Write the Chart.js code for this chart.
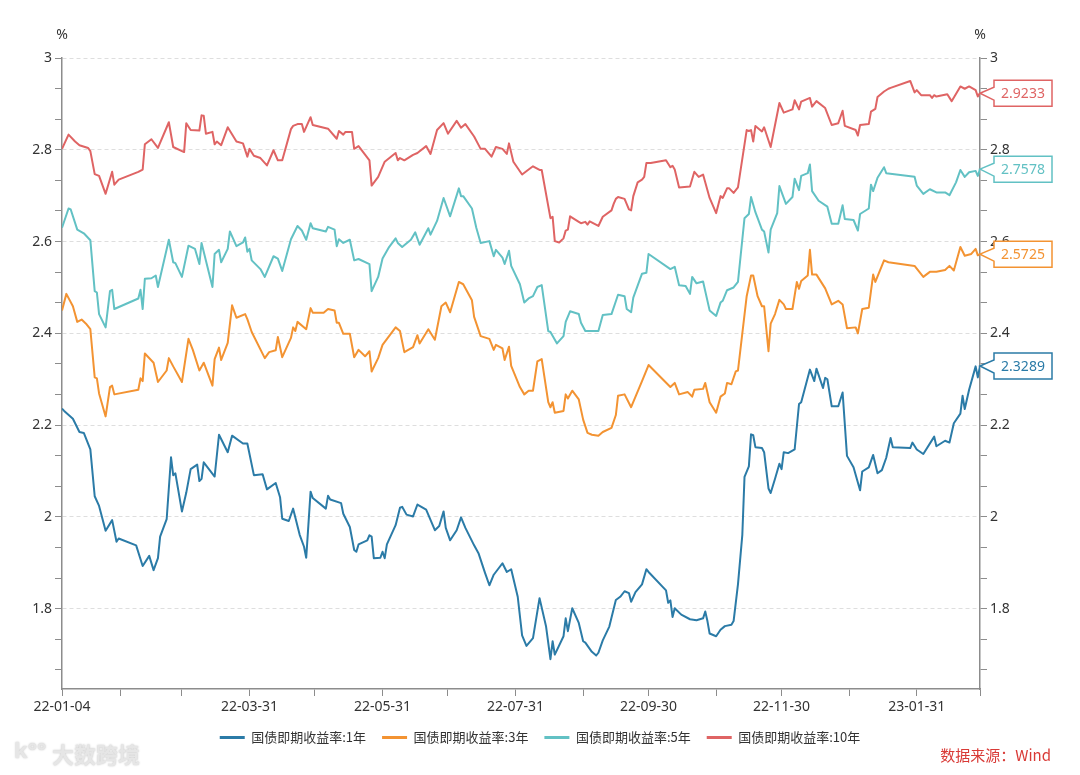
<!DOCTYPE html>
<html>
<head>
<meta charset="utf-8">
<script src="https://cdn.jsdelivr.net/npm/chart.js@4.4.0/dist/chart.umd.min.js"></script>
<style>
  html, body { margin: 0; padding: 0; background: #fff; }
  #wrap { width: 1080px; height: 775px; }
</style>
</head>
<body>
<div id="wrap"><canvas id="chart" width="1080" height="775"></canvas></div>
<script>
const seriesNames = ['国债即期收益率:1年', '国债即期收益率:3年', '国债即期收益率:5年', '国债即期收益率:10年']
const seriesColors = ['#2b7ba7', '#f39332', '#62c1c4', '#df6464']

const tickDates = ['22-01-04','22-01-31','22-02-28','22-03-31','22-04-30','22-05-31','22-06-30','22-07-31',
  '22-08-31','22-09-30','22-10-31','22-11-30','22-12-31','23-01-31','23-03-01']
const labelDates = ['22-01-04','22-03-31','22-05-31','22-07-31','22-09-30','22-11-30','23-01-31']

const yield1y = [['22-01-04',2.236],['22-01-05',2.231],['22-01-09',2.214],['22-01-12',2.185],['22-01-14',2.183],['22-01-17',2.147],
  ['22-01-19',2.045],['22-01-21',2.024],['22-01-24',1.970],['22-01-27',1.993],['22-01-29',1.946],['22-01-30',1.953],['22-02-07',1.938],
  ['22-02-10',1.893],['22-02-13',1.915],['22-02-15',1.884],['22-02-17',1.910],['22-02-18',1.957],['22-02-21',1.995],['22-02-23',2.130],
  ['22-02-24',2.091],['22-02-25',2.095],['22-02-28',2.012],['22-03-02',2.053],['22-03-04',2.104],['22-03-07',2.114],['22-03-08',2.078],
  ['22-03-09',2.083],['22-03-10',2.119],['22-03-15',2.088],['22-03-17',2.179],['22-03-21',2.141],['22-03-23',2.177],['22-03-28',2.160],
  ['22-03-30',2.160],['22-04-02',2.091],['22-04-06',2.093],['22-04-08',2.060],['22-04-12',2.074],['22-04-14',2.043],['22-04-15',1.996],
  ['22-04-18',1.991],['22-04-20',2.018],['22-04-23',1.961],['22-04-25',1.935],['22-04-26',1.911],['22-04-28',2.055],['22-04-29',2.041],
  ['22-05-05',2.018],['22-05-06',2.046],['22-05-07',2.038],['22-05-12',2.030],['22-05-13',2.007],['22-05-16',1.978],['22-05-18',1.928],
  ['22-05-19',1.924],['22-05-20',1.940],['22-05-24',1.949],['22-05-25',1.960],['22-05-26',1.957],['22-05-27',1.910],['22-05-30',1.911],
  ['22-05-31',1.924],['22-06-01',1.910],['22-06-02',1.940],['22-06-06',1.982],['22-06-08',2.020],['22-06-09',2.022],['22-06-11',2.005],
  ['22-06-14',2.001],['22-06-16',2.027],['22-06-20',2.016],['22-06-24',1.971],['22-06-26',1.980],['22-06-28',2.012],['22-06-29',1.976],
  ['22-07-01',1.949],['22-07-04',1.971],['22-07-06',1.999],['22-07-08',1.976],['22-07-12',1.938],['22-07-14',1.921],['22-07-17',1.878],
  ['22-07-19',1.851],['22-07-21',1.874],['22-07-25',1.899],['22-07-27',1.880],['22-07-29',1.886],['22-08-01',1.826],['22-08-03',1.742],
  ['22-08-05',1.719],['22-08-08',1.736],['22-08-11',1.823],['22-08-14',1.761],['22-08-16',1.690],['22-08-17',1.729],['22-08-18',1.700],
  ['22-08-22',1.740],['22-08-23',1.779],['22-08-24',1.751],['22-08-26',1.801],['22-08-29',1.769],['22-08-31',1.729],['22-09-01',1.726],
  ['22-09-04',1.706],['22-09-06',1.698],['22-09-07',1.704],['22-09-09',1.731],['22-09-12',1.761],['22-09-15',1.819],['22-09-17',1.826],
  ['22-09-19',1.838],['22-09-21',1.834],['22-09-22',1.815],['22-09-24',1.836],['22-09-27',1.853],['22-09-29',1.886],['22-09-30',1.880],
  ['22-10-08',1.840],['22-10-09',1.813],['22-10-10',1.818],['22-10-11',1.782],['22-10-12',1.801],['22-10-15',1.787],['22-10-19',1.777],
  ['22-10-22',1.775],['22-10-25',1.779],['22-10-26',1.794],['22-10-27',1.773],['22-10-28',1.746],['22-10-31',1.740],['22-11-02',1.754],
  ['22-11-04',1.762],['22-11-07',1.765],['22-11-08',1.773],['22-11-10',1.853],['22-11-12',1.961],['22-11-13',2.087],['22-11-15',2.110],
  ['22-11-16',2.180],['22-11-17',2.178],['22-11-18',2.152],['22-11-21',2.150],['22-11-22',2.141],['22-11-24',2.062],['22-11-25',2.052],
  ['22-11-27',2.083],['22-11-29',2.116],['22-11-30',2.104],['22-12-01',2.141],['22-12-03',2.139],['22-12-06',2.147],['22-12-08',2.246],
  ['22-12-09',2.250],['22-12-13',2.321],['22-12-15',2.296],['22-12-16',2.323],['22-12-19',2.281],['22-12-20',2.303],['22-12-21',2.300],
  ['22-12-23',2.241],['22-12-26',2.241],['22-12-28',2.271],['22-12-30',2.133],['23-01-02',2.108],['23-01-05',2.058],['23-01-06',2.099],
  ['23-01-09',2.108],['23-01-11',2.135],['23-01-13',2.095],['23-01-15',2.102],['23-01-17',2.129],['23-01-19',2.172],['23-01-20',2.152],
  ['23-01-28',2.150],['23-01-29',2.162],['23-01-31',2.147],['23-02-03',2.137],['23-02-08',2.175],['23-02-09',2.154],['23-02-13',2.166],
  ['23-02-15',2.162],['23-02-17',2.204],['23-02-20',2.225],['23-02-21',2.264],['23-02-22',2.235],['23-02-24',2.277],['23-02-27',2.328],
  ['23-02-28',2.304],['23-03-01',2.3289]]

const yield3y = [['22-01-04',2.450],['22-01-06',2.486],['22-01-09',2.459],['22-01-11',2.425],['22-01-13',2.430],['22-01-15',2.421],
  ['22-01-17',2.409],['22-01-19',2.304],['22-01-20',2.302],['22-01-21',2.269],['22-01-24',2.219],['22-01-26',2.283],['22-01-27',2.286],
  ['22-01-28',2.267],['22-02-08',2.277],['22-02-09',2.302],['22-02-10',2.296],['22-02-11',2.356],['22-02-15',2.336],['22-02-17',2.294],
  ['22-02-21',2.319],['22-02-22',2.346],['22-02-24',2.328],['22-02-28',2.294],['22-03-03',2.388],['22-03-05',2.364],['22-03-08',2.319],
  ['22-03-10',2.336],['22-03-14',2.286],['22-03-15',2.344],['22-03-17',2.369],['22-03-18',2.342],['22-03-21',2.379],['22-03-23',2.461],
  ['22-03-25',2.434],['22-03-29',2.442],['22-03-30',2.431],['22-04-01',2.403],['22-04-07',2.346],['22-04-09',2.359],['22-04-12',2.363],
  ['22-04-13',2.392],['22-04-15',2.348],['22-04-19',2.390],['22-04-20',2.413],['22-04-21',2.405],['22-04-22',2.425],['22-04-26',2.409],
  ['22-04-28',2.455],['22-04-29',2.445],['22-05-04',2.445],['22-05-06',2.453],['22-05-09',2.450],['22-05-10',2.423],['22-05-11',2.423],
  ['22-05-13',2.399],['22-05-16',2.399],['22-05-18',2.348],['22-05-20',2.364],['22-05-23',2.350],['22-05-25',2.361],['22-05-26',2.317],
  ['22-05-29',2.346],['22-05-31',2.375],['22-06-06',2.413],['22-06-08',2.405],['22-06-10',2.359],['22-06-14',2.370],['22-06-16',2.396],
  ['22-06-17',2.378],['22-06-21',2.409],['22-06-24',2.386],['22-06-27',2.459],['22-06-29',2.467],['22-07-01',2.446],['22-07-05',2.512],
  ['22-07-07',2.507],['22-07-11',2.472],['22-07-12',2.436],['22-07-15',2.394],['22-07-19',2.388],['22-07-21',2.364],['22-07-22',2.375],
  ['22-07-25',2.367],['22-07-26',2.342],['22-07-28',2.371],['22-07-29',2.329],['22-08-02',2.283],['22-08-04',2.267],['22-08-06',2.275],
  ['22-08-08',2.275],['22-08-10',2.339],['22-08-12',2.344],['22-08-15',2.250],['22-08-16',2.239],['22-08-17',2.250],['22-08-18',2.227],
  ['22-08-22',2.231],['22-08-23',2.267],['22-08-24',2.258],['22-08-26',2.275],['22-08-29',2.256],['22-08-31',2.212],['22-09-02',2.183],
  ['22-09-04',2.179],['22-09-07',2.177],['22-09-09',2.185],['22-09-13',2.194],['22-09-15',2.222],['22-09-16',2.264],['22-09-19',2.267],
  ['22-09-22',2.239],['22-09-27',2.296],['22-09-30',2.331],['22-10-10',2.283],['22-10-12',2.292],['22-10-14',2.267],['22-10-18',2.272],
  ['22-10-20',2.262],['22-10-21',2.277],['22-10-25',2.279],['22-10-26',2.292],['22-10-28',2.250],['22-10-31',2.227],['22-11-02',2.262],
  ['22-11-04',2.269],['22-11-05',2.292],['22-11-07',2.289],['22-11-09',2.317],['22-11-10',2.319],['22-11-14',2.481],['22-11-16',2.526],
  ['22-11-17',2.526],['22-11-19',2.481],['22-11-21',2.459],['22-11-22',2.459],['22-11-24',2.361],['22-11-25',2.421],['22-11-27',2.442],
  ['22-11-29',2.473],['22-12-01',2.463],['22-12-02',2.453],['22-12-05',2.453],['22-12-07',2.512],['22-12-08',2.497],['22-12-09',2.514],
  ['22-12-12',2.526],['22-12-13',2.582],['22-12-14',2.528],['22-12-16',2.528],['22-12-20',2.498],['22-12-23',2.463],['22-12-26',2.471],
  ['22-12-28',2.463],['22-12-30',2.411],['23-01-03',2.413],['23-01-04',2.400],['23-01-06',2.453],['23-01-09',2.456],['23-01-11',2.528],
  ['23-01-12',2.512],['23-01-16',2.559],['23-01-18',2.555],['23-01-30',2.547],['23-02-03',2.523],['23-02-06',2.534],['23-02-09',2.534],
  ['23-02-13',2.538],['23-02-15',2.547],['23-02-17',2.537],['23-02-20',2.588],['23-02-22',2.569],['23-02-25',2.573],['23-02-27',2.584],
  ['23-02-28',2.570],['23-03-01',2.5725]]

const yield5y = [['22-01-04',2.630],['22-01-07',2.672],['22-01-08',2.670],['22-01-11',2.626],['22-01-14',2.618],['22-01-17',2.603],
  ['22-01-19',2.492],['22-01-20',2.489],['22-01-21',2.442],['22-01-24',2.413],['22-01-26',2.492],['22-01-27',2.495],['22-01-28',2.453],
  ['22-02-08',2.476],['22-02-09',2.495],['22-02-10',2.453],['22-02-11',2.519],['22-02-14',2.520],['22-02-16',2.526],['22-02-17',2.501],
  ['22-02-22',2.604],['22-02-24',2.555],['22-02-25',2.553],['22-02-28',2.523],['22-03-03',2.591],['22-03-06',2.584],['22-03-08',2.551],
  ['22-03-09',2.597],['22-03-14',2.501],['22-03-15',2.573],['22-03-17',2.582],['22-03-18',2.555],['22-03-21',2.584],['22-03-22',2.622],
  ['22-03-25',2.590],['22-03-28',2.598],['22-03-29',2.609],['22-03-30',2.578],['22-03-31',2.584],['22-04-01',2.559],['22-04-05',2.540],
  ['22-04-07',2.523],['22-04-11',2.568],['22-04-13',2.563],['22-04-15',2.536],['22-04-19',2.605],['22-04-22',2.634],['22-04-24',2.624],
  ['22-04-26',2.604],['22-04-28',2.640],['22-04-29',2.629],['22-05-05',2.622],['22-05-06',2.632],['22-05-09',2.626],['22-05-10',2.590],
  ['22-05-11',2.605],['22-05-13',2.597],['22-05-16',2.604],['22-05-18',2.559],['22-05-20',2.562],['22-05-25',2.551],['22-05-26',2.492],
  ['22-05-29',2.523],['22-05-31',2.563],['22-06-03',2.588],['22-06-06',2.607],['22-06-07',2.597],['22-06-09',2.588],['22-06-13',2.604],
  ['22-06-15',2.620],['22-06-17',2.593],['22-06-21',2.629],['22-06-22',2.615],['22-06-25',2.645],['22-06-28',2.695],['22-07-01',2.655],
  ['22-07-05',2.716],['22-07-06',2.699],['22-07-07',2.699],['22-07-11',2.672],['22-07-13',2.630],['22-07-15',2.597],['22-07-19',2.601],
  ['22-07-21',2.568],['22-07-22',2.582],['22-07-25',2.565],['22-07-26',2.551],['22-07-28',2.580],['22-07-29',2.547],['22-08-02',2.507],
  ['22-08-04',2.467],['22-08-06',2.476],['22-08-08',2.481],['22-08-10',2.501],['22-08-12',2.505],['22-08-15',2.405],['22-08-16',2.403],
  ['22-08-19',2.378],['22-08-22',2.394],['22-08-23',2.425],['22-08-25',2.448],['22-08-29',2.442],['22-08-30',2.423],['22-09-01',2.405],
  ['22-09-07',2.405],['22-09-09',2.440],['22-09-13',2.442],['22-09-16',2.484],['22-09-19',2.481],['22-09-20',2.453],['22-09-22',2.446],
  ['22-09-23',2.478],['22-09-27',2.530],['22-09-29',2.532],['22-09-30',2.573],['22-10-10',2.540],['22-10-12',2.545],['22-10-14',2.505],
  ['22-10-17',2.503],['22-10-19',2.486],['22-10-20',2.523],['22-10-22',2.509],['22-10-25',2.513],['22-10-28',2.450],['22-10-31',2.438],
  ['22-11-02',2.467],['22-11-03',2.471],['22-11-05',2.494],['22-11-08',2.500],['22-11-10',2.512],['22-11-13',2.651],['22-11-15',2.660],
  ['22-11-16',2.697],['22-11-18',2.664],['22-11-21',2.626],['22-11-22',2.622],['22-11-24',2.576],['22-11-25',2.626],['22-11-28',2.662],
  ['22-11-29',2.721],['22-12-02',2.682],['22-12-05',2.697],['22-12-06',2.737],['22-12-08',2.712],['22-12-09',2.743],['22-12-12',2.749],
  ['22-12-13',2.768],['22-12-14',2.710],['22-12-17',2.689],['22-12-21',2.676],['22-12-23',2.639],['22-12-26',2.639],['22-12-28',2.679],
  ['22-12-29',2.649],['23-01-02',2.647],['23-01-04',2.624],['23-01-05',2.660],['23-01-09',2.672],['23-01-10',2.724],['23-01-11',2.710],
  ['23-01-13',2.739],['23-01-16',2.762],['23-01-17',2.749],['23-01-30',2.741],['23-01-31',2.722],['23-02-03',2.704],['23-02-06',2.714],
  ['23-02-09',2.707],['23-02-13',2.707],['23-02-15',2.701],['23-02-18',2.729],['23-02-20',2.756],['23-02-22',2.741],['23-02-24',2.751],
  ['23-02-27',2.754],['23-02-28',2.743],['23-03-01',2.7578]]

const yield10y = [['22-01-04',2.802],['22-01-07',2.833],['22-01-10',2.818],['22-01-12',2.810],['22-01-16',2.804],['22-01-17',2.797],
  ['22-01-19',2.747],['22-01-21',2.743],['22-01-24',2.704],['22-01-27',2.752],['22-01-28',2.724],['22-01-30',2.735],['22-02-08',2.752],
  ['22-02-10',2.757],['22-02-11',2.812],['22-02-14',2.823],['22-02-17',2.804],['22-02-22',2.860],['22-02-24',2.806],['22-03-01',2.795],
  ['22-03-02',2.858],['22-03-04',2.843],['22-03-08',2.842],['22-03-09',2.875],['22-03-10',2.874],['22-03-11',2.835],['22-03-14',2.839],
  ['22-03-15',2.812],['22-03-16',2.818],['22-03-18',2.810],['22-03-21',2.849],['22-03-25',2.818],['22-03-28',2.814],['22-03-30',2.785],
  ['22-03-31',2.802],['22-04-02',2.787],['22-04-05',2.782],['22-04-08',2.766],['22-04-11',2.799],['22-04-13',2.777],['22-04-15',2.777],
  ['22-04-19',2.845],['22-04-20',2.852],['22-04-22',2.856],['22-04-24',2.856],['22-04-25',2.839],['22-04-28',2.871],['22-04-29',2.854],
  ['22-05-06',2.846],['22-05-10',2.824],['22-05-11',2.841],['22-05-13',2.833],['22-05-14',2.839],['22-05-17',2.839],['22-05-18',2.802],
  ['22-05-20',2.808],['22-05-25',2.777],['22-05-26',2.722],['22-05-29',2.741],['22-06-01',2.774],['22-06-06',2.793],['22-06-07',2.777],
  ['22-06-08',2.782],['22-06-10',2.777],['22-06-14',2.789],['22-06-16',2.793],['22-06-20',2.808],['22-06-22',2.791],['22-06-25',2.843],
  ['22-06-28',2.858],['22-06-30',2.835],['22-07-04',2.863],['22-07-06',2.848],['22-07-08',2.856],['22-07-12',2.829],['22-07-15',2.802],
  ['22-07-17',2.802],['22-07-20',2.785],['22-07-22',2.806],['22-07-25',2.802],['22-07-27',2.791],['22-07-28',2.814],['22-07-30',2.774],
  ['22-08-03',2.746],['22-08-06',2.757],['22-08-08',2.764],['22-08-11',2.756],['22-08-12',2.756],['22-08-16',2.651],['22-08-17',2.654],
  ['22-08-18',2.601],['22-08-20',2.598],['22-08-22',2.607],['22-08-23',2.624],['22-08-24',2.626],['22-08-25',2.655],['22-08-29',2.643],
  ['22-08-30',2.640],['22-09-01',2.643],['22-09-02',2.637],['22-09-03',2.644],['22-09-07',2.634],['22-09-09',2.654],['22-09-13',2.668],
  ['22-09-14',2.682],['22-09-15',2.693],['22-09-16',2.697],['22-09-19',2.693],['22-09-21',2.670],['22-09-22',2.668],['22-09-23',2.699],
  ['22-09-25',2.729],['22-09-27',2.735],['22-09-28',2.741],['22-09-29',2.771],['22-10-01',2.771],['22-10-08',2.777],['22-10-10',2.762],
  ['22-10-11',2.765],['22-10-12',2.757],['22-10-14',2.718],['22-10-19',2.720],['22-10-21',2.752],['22-10-23',2.741],['22-10-25',2.746],
  ['22-10-28',2.695],['22-10-31',2.662],['22-11-02',2.699],['22-11-03',2.695],['22-11-05',2.716],['22-11-06',2.716],['22-11-08',2.706],
  ['22-11-10',2.718],['22-11-14',2.843],['22-11-15',2.841],['22-11-16',2.843],['22-11-17',2.818],['22-11-18',2.852],['22-11-21',2.840],
  ['22-11-22',2.849],['22-11-25',2.806],['22-11-29',2.902],['22-12-01',2.881],['22-12-05',2.888],['22-12-06',2.908],['22-12-08',2.888],
  ['22-12-09',2.905],['22-12-13',2.913],['22-12-14',2.894],['22-12-16',2.906],['22-12-20',2.891],['22-12-23',2.854],['22-12-26',2.858],
  ['22-12-28',2.885],['22-12-29',2.852],['23-01-03',2.843],['23-01-04',2.831],['23-01-05',2.854],['23-01-09',2.856],['23-01-10',2.883],
  ['23-01-12',2.889],['23-01-13',2.915],['23-01-16',2.927],['23-01-18',2.933],['23-01-19',2.935],['23-01-28',2.950],['23-01-30',2.925],
  ['23-01-31',2.930],['23-02-02',2.919],['23-02-06',2.919],['23-02-07',2.913],['23-02-08',2.919],['23-02-09',2.916],['23-02-14',2.921],
  ['23-02-16',2.906],['23-02-20',2.938],['23-02-22',2.933],['23-02-24',2.938],['23-02-27',2.930],['23-02-28',2.916],['23-03-01',2.9233]]

const allSeries = [yield1y, yield3y, yield5y, yield10y]

// 'yy-mm-dd' -> day number, used as the x value
function dayOf(s) {
  const p = s.split('-')
  return Date.UTC(2000 + parseInt(p[0], 10), parseInt(p[1], 10) - 1, parseInt(p[2], 10)) / 864e5
}

const yMin = 1.625
const yMax = 3
const yStep = 0.2 / 3

function buildYTicks(scale) {
  const ticks = []
  for (let i = 0; yMax - i * yStep >= yMin - 1e-9; i++) {
    ticks.push({value: yMax - i * yStep})
  }
  scale.ticks = ticks
}

function yLabel(value, index) {
  return index % 3 === 0 ? String(parseFloat(value.toFixed(1))) : ''
}

Chart.defaults.font.family = '"Noto Sans", "Noto Sans CJK SC", sans-serif'
Chart.defaults.font.size = 14
Chart.defaults.color = '#333'

const axisColor = '#8c8c8c'

const extras = {
  id: 'extras',
  afterDraw(chart) {
    const ctx = chart.ctx
    const area = chart.chartArea
    ctx.save()
    ctx.font = '14px "Noto Sans", "Noto Sans CJK SC", sans-serif'
    ctx.fillStyle = '#333'
    ctx.textAlign = 'center'
    ctx.textBaseline = 'middle'
    ctx.fillText('%', area.left, 35)
    ctx.fillText('%', area.right, 35)

    // end value callouts
    chart.data.datasets.forEach((ds, i) => {
      const meta = chart.getDatasetMeta(i)
      const last = meta.data[meta.data.length - 1]
      const x0 = area.right
      const y0 = last.y
      const bx = x0 + 14, bw = 58, bh = 26
      ctx.beginPath()
      ctx.moveTo(x0, y0)
      ctx.lineTo(bx, y0 - 6)
      ctx.lineTo(bx, y0 - bh / 2)
      ctx.lineTo(bx + bw, y0 - bh / 2)
      ctx.lineTo(bx + bw, y0 + bh / 2)
      ctx.lineTo(bx, y0 + bh / 2)
      ctx.lineTo(bx, y0 + 7)
      ctx.closePath()
      ctx.fillStyle = '#fff'
      ctx.fill()
      ctx.lineWidth = 1.5
      ctx.strokeStyle = ds.borderColor
      ctx.stroke()
      ctx.fillStyle = ds.borderColor
      ctx.font = '14px "Noto Sans", sans-serif'
      const v = allSeries[i][allSeries[i].length - 1][1]
      ctx.fillText(v.toFixed(4), bx + bw / 2, y0 + 1)
    })

    // source note
    ctx.font = '15px "Noto Sans CJK SC", sans-serif'
    ctx.fillStyle = '#d93a36'
    ctx.textAlign = 'right'
    ctx.fillText('数据来源：Wind', 1051, 755)

    // watermark
    ctx.font = 'bold 22px "Noto Sans CJK SC", sans-serif'
    ctx.textAlign = 'left'
    ctx.shadowColor = 'rgba(0,0,0,0.25)'
    ctx.shadowBlur = 2
    ctx.fillStyle = '#e6e6e6'
    ctx.fillText('大数跨境', 52, 755)
    ctx.font = 'bold 22px "Noto Sans", sans-serif'
    ctx.fillText('k°°', 14, 752)
    ctx.restore()
  }
}

const ctx = document.getElementById('chart').getContext('2d')
const chart = new Chart(ctx, {
  type: 'line',
  data: {
    datasets: allSeries.map((series, i) => ({
      label: seriesNames[i],
      data: series.map(p => ({x: dayOf(p[0]), y: p[1]})),
      borderColor: seriesColors[i],
      backgroundColor: seriesColors[i],
      borderWidth: 2,
      pointRadius: 0,
      tension: 0,
      borderJoinStyle: 'round',
      yAxisID: 'y'
    }))
  },
  options: {
    responsive: false,
    animation: false,
    layout: {padding: {top: 58, right: 0, bottom: 21, left: 0}},
    plugins: {
      tooltip: {enabled: false},
      legend: {
        position: 'bottom',
        labels: {
          usePointStyle: true,
          pointStyle: 'line',
          pointStyleWidth: 25,
          padding: 16,
          color: '#333',
          font: {size: 13, family: '"Noto Sans CJK SC", sans-serif'},
          generateLabels(c) {
            return Chart.defaults.plugins.legend.labels.generateLabels(c).map(item => {
              item.lineWidth = 3
              return item
            })
          }
        }
      }
    },
    scales: {
      x: {
        type: 'linear',
        min: dayOf(tickDates[0]),
        max: dayOf(tickDates[tickDates.length - 1]),
        afterBuildTicks(scale) {
          scale.ticks = tickDates.map(s => ({value: dayOf(s)}))
        },
        afterFit(scale) { scale.height = 26 },
        ticks: {
          autoSkip: false,
          maxRotation: 0,
          padding: 3,
          color: '#333',
          callback(value, index) {
            const s = tickDates[index]
            return labelDates.includes(s) ? s : ''
          }
        },
        grid: {drawOnChartArea: false, tickLength: 7, tickColor: axisColor},
        border: {color: axisColor, width: 1.5}
      },
      y: {
        position: 'left',
        min: yMin,
        max: yMax,
        afterBuildTicks: buildYTicks,
        afterFit(scale) { scale.width = 62 },
        ticks: {autoSkip: false, padding: 3, color: '#333', callback: yLabel},
        grid: {
          color: c => (c.index % 3 === 0 ? '#dedede' : 'rgba(0,0,0,0)'),
          tickColor: axisColor,
          tickLength: 7
        },
        border: {color: axisColor, width: 1.5, dash: [4, 3]}
      },
      y1: {
        position: 'right',
        min: yMin,
        max: yMax,
        afterBuildTicks: buildYTicks,
        afterFit(scale) { scale.width = 100 },
        ticks: {autoSkip: false, padding: 3, color: '#333', callback: yLabel},
        grid: {drawOnChartArea: false, tickColor: axisColor, tickLength: 7},
        border: {color: axisColor, width: 1.5}
      }
    }
  },
  plugins: [extras]
})
</script>
</body>
</html>
